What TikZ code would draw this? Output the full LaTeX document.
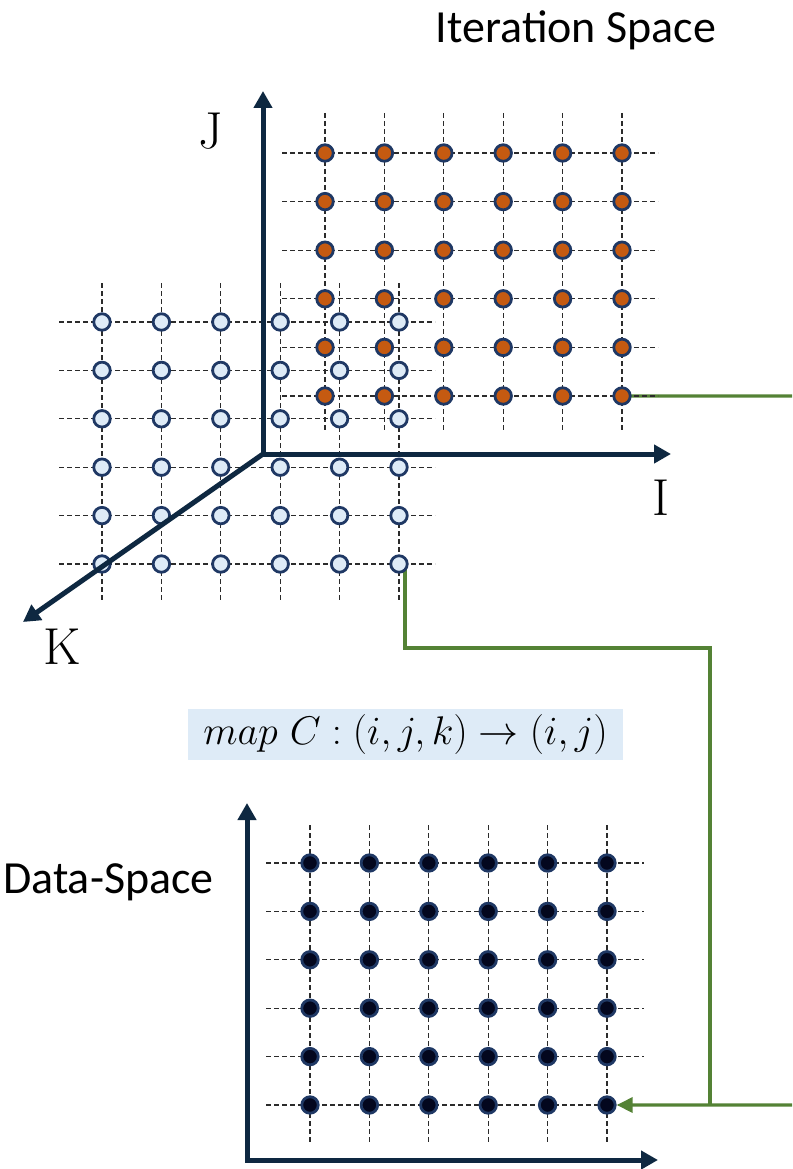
\RequirePackage{fix-cm}
\documentclass[tikz,border=0pt]{standalone}
\usepackage{fontspec}
\newfontfamily\carlito{Carlito}
\usetikzlibrary{arrows.meta}
\definecolor{axisblue}{HTML}{0E2841}
\definecolor{rimblue}{HTML}{1F3864}
\definecolor{orangefill}{HTML}{C55A11}
\definecolor{paleblue}{HTML}{DEEBF7}
\definecolor{nightfill}{HTML}{03071E}
\definecolor{linkgreen}{HTML}{548235}
\definecolor{gridgray}{HTML}{2B2B2B}
\definecolor{mapbg}{HTML}{DEEBF7}
\pgfdeclarelayer{links}
\pgfsetlayers{links,main}
\begin{document}
\begin{tikzpicture}[x=1pt,y=-1pt,
  gridline/.style={draw=gridgray,line width=1.3pt,dash pattern=on 5pt off 3pt},
  dot/.style={circle,draw=rimblue,line width=2.8pt,minimum size=16.5pt,inner sep=0pt},
  iterdot/.style={dot,fill=orangefill},
  proxdot/.style={dot,fill=paleblue},
  datadot/.style={dot,fill=nightfill},
  axisline/.style={draw=axisblue,line width=5pt,line join=miter},
  axistips/.style={axisline,{Triangle[length=17pt,width=18pt]}-{Triangle[length=17pt,width=18pt]}},
  axistip/.style={axisline,-{Triangle[length=17pt,width=18pt]}},
  link/.style={draw=linkgreen,line width=3.4pt},
  linkarrow/.style={link,-{Triangle[length=16pt,width=15pt]}},
  bigserif/.style={font=\fontsize{52}{60}\selectfont,inner sep=0pt},
  caption/.style={font=\carlito\fontsize{46}{55}\selectfont,inner sep=0pt}
]
\useasboundingbox (0,0) rectangle (792,1169);

% ---- iteration space, orange plane
\foreach \c in {0,...,5}
  \draw[gridline] ({325+59.4*\c},113) -- ({325+59.4*\c},432);
\foreach \r in {0,...,5}
  \draw[gridline] (282,{153+48.6*\r}) -- (658,{153+48.6*\r});
\foreach \c in {1,...,6}
  \foreach \r in {1,...,6}
    \node[iterdot] (o\c\r) at ({325+59.4*(\c-1)},{153+48.6*(\r-1)}) {};

% ---- iteration space, pale plane
\foreach \c in {0,...,5}
  \draw[gridline] ({102+59.4*\c},283) -- ({102+59.4*\c},602);
\foreach \r in {0,...,5}
  \draw[gridline] (59,{322+48.4*\r}) -- (435,{322+48.4*\r});
\foreach \c in {1,...,6}
  \foreach \r in {1,...,6}
    \node[proxdot] (b\c\r) at ({102+59.4*(\c-1)},{322+48.4*(\r-1)}) {};

% ---- 3D axes
\coordinate (origin3d) at (263,454);
\coordinate (jtip) at (263,91);
\coordinate (itip) at (671,454);
\coordinate (ktip) at (23,622);
\draw[axistips] (jtip) -- (origin3d) -- (itip);
\draw[axistip] (origin3d) -- (ktip);

\node[bigserif,anchor=base] (labJ) at (211,149) {J};
\node[bigserif,anchor=base] (labI) at (661,515) {I};
\node[bigserif,anchor=base] (labK) at (62,664) {K};
\node[caption,anchor=base] (itertitle) at (576,43) {Iteration Space};

% ---- data space
\foreach \c in {0,...,5}
  \draw[gridline] ({310+59.4*\c},825) -- ({310+59.4*\c},1142);
\foreach \r in {0,...,5}
  \draw[gridline] (266,{863+48.4*\r}) -- (644,{863+48.4*\r});
\foreach \c in {1,...,6}
  \foreach \r in {1,...,6}
    \node[datadot] (d\c\r) at ({310+59.4*(\c-1)},{863+48.4*(\r-1)}) {};

\coordinate (dtop) at (247,803);
\coordinate (dcorner) at (247,1160);
\coordinate (dright) at (658,1160);
\draw[axistips] (dtop) -- (dcorner) -- (dright);

\node[caption,anchor=base west] (datatitle) at (3,893) {Data-Space};

% ---- map label
\node[fill=mapbg,minimum width=435pt,minimum height=51pt,inner sep=0pt] (map) at (405.5,734.5)
  {\fontsize{40}{48}\selectfont$map\ C : (i,j,k) \rightarrow (i,j)$};

% ---- green connectors
\coordinate (exitA) at (792,396);
\coordinate (bendA) at (405,648);
\coordinate (bendB) at (710,648);
\coordinate (joint) at (710,1105);
\coordinate (exitB) at (792,1105);
\begin{pgfonlayer}{links}
  \draw[link] (o66.center) -- (exitA);
  \draw[link] (b66.center -| bendA) -- (bendA) -- (bendB) -- (joint);
\end{pgfonlayer}
\draw[linkarrow] (exitB) -- (d66.east);
\end{tikzpicture}
\end{document}
